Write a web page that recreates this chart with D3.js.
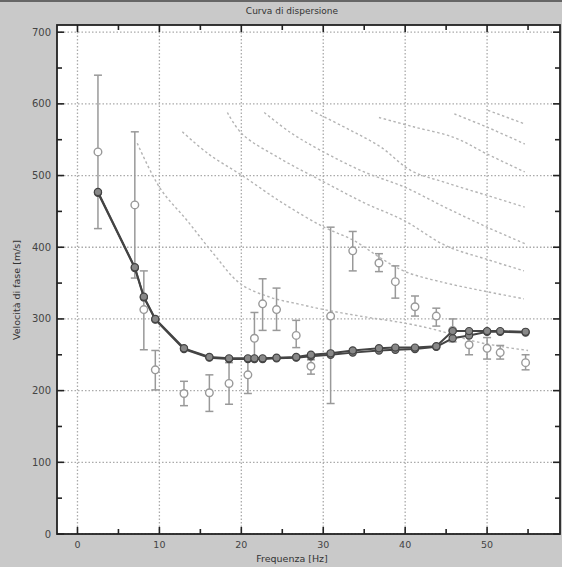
<!DOCTYPE html>
<html>
<head>
<meta charset="utf-8">
<script src="https://cdn.jsdelivr.net/npm/d3@7"></script>
<style>
  body { margin: 0; background: #c9c9c9; }
  text { font-family: "DejaVu Sans", sans-serif; }
</style>
</head>
<body>
<div id="viz"></div>
<script>
// observed frequencies and velocities
const freq = [2.5, 7.0, 8.1, 9.5, 13, 16.1, 18.5, 20.8, 21.6, 22.6, 24.3, 26.7, 28.5, 30.9, 33.6, 36.8, 38.8, 41.2, 43.8, 45.8, 47.8, 50, 51.6, 54.7];
const velObs  = [533, 459, 313, 229, 196, 197, 210, 222, 273, 321, 313, 277, 234, 304, 395, 378, 352, 317, 304, 284, 264, 259, 253, 239];
const errLow  = [426, 357, 257, 201, 179, 171, 181, 196, 245, 284, 284, 260, 223, 182, 367, 366, 329, 304, 290, 268, 250, 244, 244, 229];
const errHigh = [640, 561, 367, 256, 213, 222, 239, 244, 309, 356, 343, 298, 243, 428, 422, 391, 374, 332, 315, 300, 277, 274, 263, 250];
// fitted curves
const velFit1 = [477, 372, 331, 300, 259, 247, 245, 245, 245, 245, 246, 247, 250, 252, 256, 259, 260, 260, 262, 283, 283, 283, 283, 282];
const velFit2 = [476, 371, 330, 299, 258, 246, 244, 244, 244, 244, 245, 246, 248, 250, 253, 256, 257, 258, 261, 273, 277, 282, 282, 281];
// higher modes (freq, vel)
const mode1 = [[7.3,545],[10.1,482],[13.4,437],[16.6,391],[19.9,349],[23.6,330],[26.9,321],[30.1,313],[35,303],[40,294],[44,284],[48,270],[52,261],[55,256]];
const mode2 = [[12.8,561],[16,530],[20.1,500],[25,462],[30.1,428],[33.8,409],[37,385],[40,366],[45,350],[50,338],[54.5,328]];
const mode3 = [[18.3,588],[20.1,558],[25,522],[30.1,491],[35,462],[39.9,437],[45,402],[50,383],[54.5,367]];
const mode4 = [[22.8,588],[26,560],[29.7,535],[35,505],[39.9,484],[45,455],[50,428],[54.6,405]];
const mode5 = [[28.5,591],[33,565],[37,540],[40.7,507],[45,490],[50.1,472],[54.6,456]];
const mode6 = [[36.8,581],[41,568],[46,553],[50,530],[54.6,505]];
const mode7 = [[46,586],[50.1,567],[54.6,544]];
const mode8 = [[50.1,591],[54.6,572]];
const higherModes = [mode1, mode2, mode3, mode4, mode5, mode6, mode7, mode8];

const xMajor = [0, 10, 20, 30, 40, 50];
const xMinor = [5, 15, 25, 35, 45, 55];
const yMajor = [0, 100, 200, 300, 400, 500, 600, 700];
const yMinor = [50, 150, 250, 350, 450, 550, 650];

const width = 562, height = 567;
const plot = {left: 57, right: 560, top: 25, bottom: 534};

const svg = d3.select('#viz').append('svg')
  .attr('width', width)
  .attr('height', height)

svg.append('rect').attr('width', width).attr('height', height).attr('fill', '#c9c9c9')
svg.append('line').attr('x1', 0).attr('x2', width).attr('y1', 1).attr('y2', 1)
  .attr('stroke', '#666').attr('stroke-width', 2)

const x = d3.scaleLinear().domain([-2.5, 58.9]).range([plot.left, plot.right])
const y = d3.scaleLinear().domain([0, 710]).range([plot.bottom, plot.top])

svg.append('rect')
  .attr('x', plot.left).attr('y', plot.top)
  .attr('width', plot.right - plot.left).attr('height', plot.bottom - plot.top)
  .attr('fill', 'white')

// grid
const grid = svg.append('g')
grid.selectAll('.gx').data(xMajor).join('line')
  .attr('x1', d => x(d)).attr('x2', d => x(d))
  .attr('y1', plot.top).attr('y2', plot.bottom)
  .attr('stroke', '#aaa').attr('stroke-dasharray', '1.5,2').attr('stroke-width', 1.3)
grid.selectAll('.gy').data(yMajor).join('line')
  .attr('y1', d => y(d)).attr('y2', d => y(d))
  .attr('x1', plot.left).attr('x2', plot.right)
  .attr('stroke', '#aaa').attr('stroke-dasharray', '1.5,2').attr('stroke-width', 1.3)

// higher modes
const modeLine = d3.line().x(d => x(d[0])).y(d => y(d[1])).curve(d3.curveCatmullRom)
svg.append('g').selectAll('path').data(higherModes).join('path')
  .attr('d', modeLine)
  .attr('fill', 'none')
  .attr('stroke', '#b4b4b4')
  .attr('stroke-width', 1.4)
  .attr('stroke-dasharray', '2.5,2.5')

// error bars + observed points
const obs = freq.map((f, i) => ({f: f, v: velObs[i], lo: errLow[i], hi: errHigh[i]}))
const errG = svg.append('g').attr('stroke', '#999').attr('stroke-width', 1.5)
errG.selectAll('.bar').data(obs).join('line')
  .attr('x1', d => x(d.f)).attr('x2', d => x(d.f))
  .attr('y1', d => y(d.lo)).attr('y2', d => y(d.hi))
errG.selectAll('.capLo').data(obs).join('line')
  .attr('x1', d => x(d.f) - 4).attr('x2', d => x(d.f) + 4)
  .attr('y1', d => y(d.lo)).attr('y2', d => y(d.lo))
errG.selectAll('.capHi').data(obs).join('line')
  .attr('x1', d => x(d.f) - 4).attr('x2', d => x(d.f) + 4)
  .attr('y1', d => y(d.hi)).attr('y2', d => y(d.hi))
svg.append('g').selectAll('circle').data(obs).join('circle')
  .attr('cx', d => x(d.f)).attr('cy', d => y(d.v)).attr('r', 3.8)
  .attr('fill', 'white').attr('stroke', '#999').attr('stroke-width', 1.4)

// fitted curves
const fitLine = d3.line().x(d => x(d[0])).y(d => y(d[1]))
;[velFit2, velFit1].forEach(vals => {
  const pts = freq.map((f, i) => [f, vals[i]])
  svg.append('path').attr('d', fitLine(pts))
    .attr('fill', 'none').attr('stroke', '#444').attr('stroke-width', 2)
  svg.append('g').selectAll('circle').data(pts).join('circle')
    .attr('cx', d => x(d[0])).attr('cy', d => y(d[1])).attr('r', 3.6)
    .attr('fill', '#888').attr('stroke', '#444').attr('stroke-width', 1.2)
})

// frame
svg.append('rect')
  .attr('x', plot.left).attr('y', plot.top)
  .attr('width', plot.right - plot.left).attr('height', plot.bottom - plot.top)
  .attr('fill', 'none').attr('stroke', '#222').attr('stroke-width', 1.8)

// ticks on all sides, pointing inward
const ticks = svg.append('g').attr('stroke', '#222').attr('stroke-width', 1.6)
const addX = (vals, len) => {
  ticks.selectAll(null).data(vals).join('line')
    .attr('x1', d => x(d)).attr('x2', d => x(d))
    .attr('y1', plot.bottom).attr('y2', plot.bottom - len)
  ticks.selectAll(null).data(vals).join('line')
    .attr('x1', d => x(d)).attr('x2', d => x(d))
    .attr('y1', plot.top).attr('y2', plot.top + len)
}
const addY = (vals, len) => {
  ticks.selectAll(null).data(vals).join('line')
    .attr('y1', d => y(d)).attr('y2', d => y(d))
    .attr('x1', plot.left).attr('x2', plot.left + len)
  ticks.selectAll(null).data(vals).join('line')
    .attr('y1', d => y(d)).attr('y2', d => y(d))
    .attr('x1', plot.right).attr('x2', plot.right - len)
}
addX(xMajor, 7); addX(xMinor, 5)
addY(yMajor, 7); addY(yMinor, 5)

// tick labels
svg.append('g').selectAll('text').data(xMajor).join('text')
  .attr('x', d => x(d)).attr('y', 548)
  .attr('text-anchor', 'middle').attr('font-size', 9.5).attr('fill', '#444')
  .text(d => d)
svg.append('g').selectAll('text').data(yMajor).join('text')
  .attr('x', 51).attr('y', d => y(d) + 3.5)
  .attr('text-anchor', 'end').attr('font-size', 10).attr('fill', '#444')
  .text(d => d)

// titles
svg.append('text').attr('x', 292).attr('y', 14)
  .attr('text-anchor', 'middle').attr('font-size', 9).attr('fill', '#333')
  .text('Curva di dispersione')
svg.append('text').attr('x', 292).attr('y', 562)
  .attr('text-anchor', 'middle').attr('font-size', 9.5).attr('fill', '#333')
  .text('Frequenza [Hz]')
svg.append('text')
  .attr('transform', 'translate(20,290) rotate(-90)')
  .attr('text-anchor', 'middle').attr('font-size', 9.5).attr('fill', '#333')
  .text('Velocità di fase  [m/s]')
</script>
</body>
</html>
